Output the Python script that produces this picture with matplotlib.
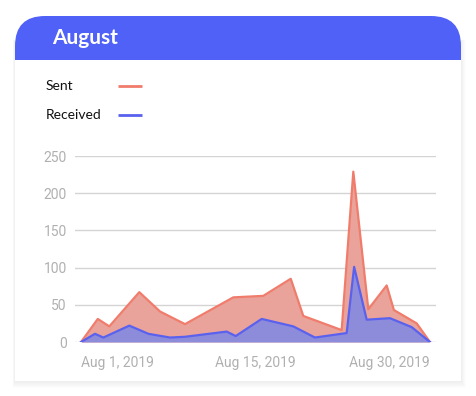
import matplotlib
matplotlib.use("Agg")
import matplotlib.pyplot as plt
from matplotlib.patches import Rectangle, FancyBboxPatch

# ===== Data (x in days along the axis, 0 = first point) =====
sent_x = [0, 1.44, 2.43, 5.01, 6.79, 8.94, 13.09, 15.67, 18.03, 19.11,
          22.41, 23.41, 24.70, 26.28, 26.90, 28.86, 30]
sent_y = [0, 31, 21, 67, 41, 24, 60, 62, 85, 35,
          16, 229, 44, 76, 43, 25, 0]

recv_x = [0, 1.20, 1.92, 4.15, 5.79, 7.65, 8.94, 12.52, 13.30, 15.53,
          18.25, 20.11, 22.84, 23.48, 24.56, 26.56, 28.43, 30]
recv_y = [0, 11, 6, 22, 11, 6, 7, 14, 8, 31,
          21, 6, 12, 101, 30, 32, 20, 0]

x_ticks = [0, 15, 30]
x_labels = ["Aug 1, 2019", "Aug 15, 2019", "Aug 30, 2019"]
y_ticks = [0, 50, 100, 150, 200, 250]

title = "August"
series_names = ["Sent", "Received"]
sent_line = "#f07c6c"
sent_fill = "#e9a39a"
recv_line = "#5a61ee"
recv_fill = "#8d8cdb"
header_blue = "#5061f7"

W, H = 477, 396
fig = plt.figure(figsize=(W / 100, H / 100), dpi=100)
fig.patch.set_facecolor("white")

# ===== Card background (pixel coordinates) =====
bg = fig.add_axes([0, 0, 1, 1], zorder=0)
bg.set_xlim(0, W)
bg.set_ylim(H, 0)
bg.axis("off")

# soft shadow, mostly right and below
for g in range(1, 9):
    bg.add_patch(Rectangle((15 - g * 0.3, 40), 446 + g * 0.9, 341 + g * 0.9,
                           facecolor="black", alpha=0.008, linewidth=0))
bg.add_patch(Rectangle((15, 40), 446, 341, facecolor="white", linewidth=0))
bg.add_patch(FancyBboxPatch((15, 16), 446, 80, boxstyle="round,pad=0,rounding_size=30",
                            facecolor=header_blue, linewidth=0))
bg.add_patch(Rectangle((15, 60), 446, 321, facecolor="white", linewidth=0))
bg.text(52, 38, title, color="white", fontsize=15, fontweight="bold",
        family="Lato", va="center", ha="left")

# legend: label on the left, line sample on the right
for i, (name, col) in enumerate(zip(series_names, [sent_line, recv_line])):
    yy = 86 + 29 * i
    bg.text(46, yy, name, fontsize=10, family="Lato", color="#111111",
            va="center", ha="left")
    bg.plot([118, 142], [yy, yy], color=col, linewidth=2, solid_capstyle="butt")

# ===== Chart =====
ax = fig.add_axes([75 / W, 1 - 342 / H, 361 / W, 186 / H], zorder=1)
ax.patch.set_alpha(0)

ax.fill_between(sent_x, sent_y, color=sent_fill, linewidth=0)
ax.plot(sent_x, sent_y, color=sent_line, linewidth=1.6)
ax.fill_between(recv_x, recv_y, color=recv_fill, linewidth=0)
ax.plot(recv_x, recv_y, color=recv_line, linewidth=1.6)

ax.set_xlim(-0.52, 30.52)
ax.set_ylim(0, 250)
ax.set_yticks(y_ticks)
ax.set_xticks(x_ticks)
ax.set_xticklabels(x_labels)
for lab, ha in zip(ax.get_xticklabels(), ["left", "center", "right"]):
    lab.set_ha(ha)
ax.tick_params(axis="both", length=0, colors="#b0b0b0", labelsize=10)
ax.tick_params(axis="y", pad=6)
ax.tick_params(axis="x", pad=10)
for lab in ax.get_xticklabels() + ax.get_yticklabels():
    lab.set_family("Roboto")
ax.grid(axis="y", color="#d4d4d4", linewidth=1)
ax.set_axisbelow(True)
for s in ax.spines.values():
    s.set_visible(False)

fig.savefig("out.png", dpi=100)
